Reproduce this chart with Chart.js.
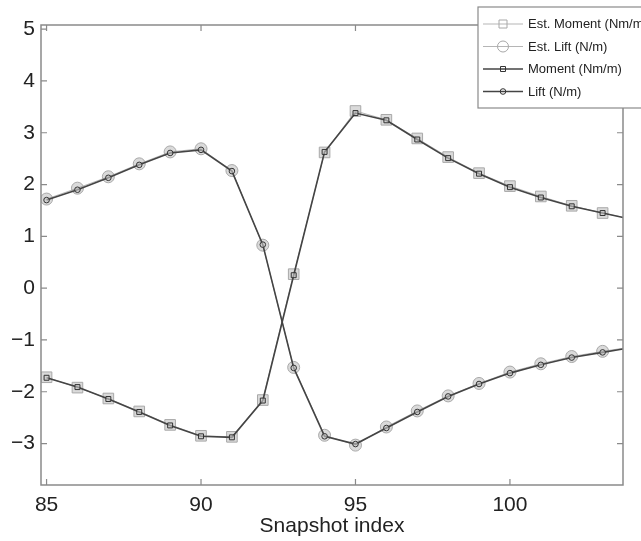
<!DOCTYPE html>
<html>
<head>
<meta charset="utf-8">
<script src="https://cdn.jsdelivr.net/npm/chart.js@4"></script>
<style>
  html, body { margin: 0; padding: 0; background: #fff; }
  canvas { display: block; }
</style>
</head>
<body>
<canvas id="snapshotChart" width="641" height="541"></canvas>
<script>
const snapshots = [85, 86, 87, 88, 89, 90, 91, 92, 93, 94, 95, 96, 97, 98, 99, 100, 101, 102, 103, 104];
const estMoment = [-1.72, -1.92, -2.13, -2.38, -2.64, -2.85, -2.87, -2.16, 0.27, 2.62, 3.42, 3.25, 2.89, 2.53, 2.22, 1.97, 1.77, 1.59, 1.45, 1.33];
const estLift = [1.72, 1.93, 2.15, 2.40, 2.63, 2.69, 2.27, 0.83, -1.53, -2.84, -3.03, -2.68, -2.37, -2.08, -1.84, -1.62, -1.46, -1.32, -1.22, -1.13];
const moment = [-1.73, -1.91, -2.14, -2.39, -2.65, -2.86, -2.88, -2.17, 0.25, 2.63, 3.38, 3.24, 2.87, 2.51, 2.21, 1.95, 1.75, 1.58, 1.45, 1.32];
const lift = [1.70, 1.90, 2.13, 2.38, 2.61, 2.67, 2.26, 0.84, -1.54, -2.86, -3.01, -2.70, -2.39, -2.09, -1.85, -1.64, -1.48, -1.34, -1.24, -1.14];
const xTicks = [85, 90, 95, 100];
const yTicks = [-3, -2, -1, 0, 1, 2, 3, 4, 5];

const FONT = 'Liberation Sans, Arial, Helvetica, sans-serif';
const toPoints = (ys) => ys.map((y, i) => ({ x: snapshots[i], y: y }));

// matlab-style box with inward ticks on every side
const framePlugin = {
  id: 'frame',
  afterDatasetsDraw(chart) {
    const { ctx, chartArea: a, scales } = chart;
    ctx.save();
    ctx.strokeStyle = '#8a8a8a';
    ctx.lineWidth = 1.5;
    ctx.strokeRect(a.left, a.top, a.right - a.left, a.bottom - a.top);
    ctx.lineWidth = 1.2;
    ctx.beginPath();
    xTicks.forEach(v => {
      const px = scales.x.getPixelForValue(v);
      ctx.moveTo(px, a.bottom); ctx.lineTo(px, a.bottom - 6);
      ctx.moveTo(px, a.top); ctx.lineTo(px, a.top + 6);
    });
    yTicks.forEach(v => {
      const py = scales.y.getPixelForValue(v);
      ctx.moveTo(a.left, py); ctx.lineTo(a.left + 6, py);
      ctx.moveTo(a.right, py); ctx.lineTo(a.right - 6, py);
    });
    ctx.stroke();
    ctx.restore();
  }
};

function drawMarker(ctx, style, x, y, r) {
  ctx.beginPath();
  if (style === 'rect') {
    ctx.rect(x - r, y - r, 2 * r, 2 * r);
  } else {
    ctx.arc(x, y, r, 0, Math.PI * 2);
  }
  ctx.stroke();
}

// legend with line + marker samples, top right corner
const legendPlugin = {
  id: 'lineLegend',
  afterDraw(chart) {
    const ctx = chart.ctx;
    const bx = 478, by = 7, bw = 200, bh = 101;
    ctx.save();
    ctx.fillStyle = '#fff';
    ctx.fillRect(bx, by, bw, bh);
    ctx.strokeStyle = '#8a8a8a';
    ctx.lineWidth = 1.2;
    ctx.strokeRect(bx, by, bw, bh);
    ctx.font = '13px ' + FONT;
    ctx.textBaseline = 'middle';
    chart.data.datasets.forEach((ds, i) => {
      const y = 24 + i * 22.5;
      ctx.strokeStyle = ds.legendLine;
      ctx.lineWidth = ds.borderWidth;
      ctx.beginPath();
      ctx.moveTo(483, y); ctx.lineTo(523, y);
      ctx.stroke();
      ctx.fillStyle = '#fff';
      ctx.strokeStyle = ds.pointBorderColor;
      ctx.lineWidth = 1;
      drawMarker(ctx, ds.pointStyle, 503, y, ds.legendMarker);
      ctx.fillStyle = '#222';
      ctx.fillText(ds.label, 528, y + 0.5);
    });
    ctx.restore();
  }
};

new Chart(document.getElementById('snapshotChart'), {
  type: 'scatter',
  data: {
    datasets: [
      {
        label: 'Est. Moment (Nm/m)',
        data: toPoints(estMoment),
        showLine: true,
        borderColor: '#b5b5b5',
        legendLine: '#b5b5b5',
        borderWidth: 1,
        pointStyle: 'rect',
        pointRadius: 7.5,
        legendMarker: 4,
        pointBackgroundColor: 'rgba(150,150,150,0.35)',
        pointBorderColor: '#a8a8a8',
        pointBorderWidth: 1,
        order: 2,
      },
      {
        label: 'Est. Lift (N/m)',
        data: toPoints(estLift),
        showLine: true,
        borderColor: '#b5b5b5',
        legendLine: '#b5b5b5',
        borderWidth: 1,
        pointStyle: 'circle',
        pointRadius: 6,
        legendMarker: 5.5,
        pointBackgroundColor: 'rgba(150,150,150,0.35)',
        pointBorderColor: '#a8a8a8',
        pointBorderWidth: 1,
        order: 2,
      },
      {
        label: 'Moment (Nm/m)',
        data: toPoints(moment),
        showLine: true,
        borderColor: '#444',
        legendLine: '#444',
        borderWidth: 1.6,
        pointStyle: 'rect',
        pointRadius: 3.5,
        legendMarker: 2.5,
        pointBackgroundColor: 'rgba(200,200,200,0.6)',
        pointBorderColor: '#333',
        pointBorderWidth: 1,
        order: 1,
      },
      {
        label: 'Lift (N/m)',
        data: toPoints(lift),
        showLine: true,
        borderColor: '#444',
        legendLine: '#444',
        borderWidth: 1.6,
        pointStyle: 'circle',
        pointRadius: 2.8,
        legendMarker: 2.8,
        pointBackgroundColor: 'rgba(200,200,200,0.6)',
        pointBorderColor: '#333',
        pointBorderWidth: 1,
        order: 1,
      },
    ],
  },
  options: {
    responsive: false,
    animation: false,
    layout: {
      padding: { top: 25, right: 18, left: 0, bottom: 0 },
    },
    plugins: {
      legend: { display: false },
      tooltip: { enabled: false },
    },
    scales: {
      x: {
        type: 'linear',
        min: 84.82,
        max: 103.66,
        afterBuildTicks: (scale) => { scale.ticks = xTicks.map(v => ({ value: v })); },
        afterFit: (scale) => { scale.height = 56; },
        grid: { display: false, drawTicks: false },
        border: { display: false },
        ticks: {
          font: { family: FONT, size: 21 },
          color: '#222',
          padding: 8,
          maxRotation: 0,
        },
        title: {
          display: true,
          text: 'Snapshot index',
          font: { family: FONT, size: 21 },
          color: '#222',
          padding: { top: 0, bottom: 2 },
        },
      },
      y: {
        min: -3.8,
        max: 5.08,
        afterBuildTicks: (scale) => { scale.ticks = yTicks.map(v => ({ value: v })); },
        afterFit: (scale) => { scale.width = 41; },
        grid: { display: false, drawTicks: false },
        border: { display: false },
        ticks: {
          font: { family: FONT, size: 21 },
          color: '#222',
          padding: 6,
          callback: (v) => String(v).replace('-', '\u2212'),
        },
      },
    },
  },
  plugins: [framePlugin, legendPlugin],
});
</script>
</body>
</html>
